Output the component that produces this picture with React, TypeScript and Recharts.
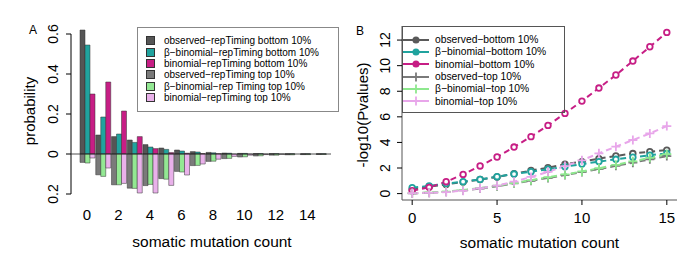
import {
  BarChart,
  Bar,
  LineChart,
  Line,
  XAxis,
  YAxis,
  Legend,
  ReferenceLine,
} from "recharts";

// ---- data ----
const mutationCounts = ["0", "1", "2", "3", "4", "5", "6", "7", "8", "9", "10", "11", "12", "13", "14", "15"];

// panel A: probability of each count (top 10% drawn downward)
const obsBottomProb = [0.62, 0.095, 0.087, 0.07, 0.047, 0.03, 0.02, 0.012, 0.008, 0.005, 0.003, 0.002, 0.0015, 0.001, 0.001, 0.001];
const bbBottomProb = [0.545, 0.185, 0.1, 0.058, 0.035, 0.023, 0.015, 0.01, 0.006, 0.004, 0.003, 0.002, 0.0015, 0.001, 0.001, 0.001];
const binBottomProb = [0.3, 0.36, 0.215, 0.087, 0.027, 0.007, 0.004, 0.002, 0.001, 0, 0, 0, 0, 0, 0, 0];
const obsTopProb = [-0.042, -0.104, -0.154, -0.171, -0.158, -0.123, -0.087, -0.058, -0.037, -0.023, -0.015, -0.01, -0.006, -0.004, -0.003, -0.002];
const bbTopProb = [-0.045, -0.112, -0.154, -0.172, -0.152, -0.126, -0.09, -0.057, -0.036, -0.022, -0.014, -0.009, -0.006, -0.004, -0.003, -0.002];
const binTopProb = [-0.02, -0.07, -0.147, -0.195, -0.195, -0.157, -0.105, -0.05, -0.026, -0.012, -0.006, -0.003, -0.001, 0, 0, 0];

const probTicks = [-0.2, 0, 0.2, 0.4, 0.6];

// panel B: -log10(p)
const obsBottomP = [0.33, 0.54, 0.72, 0.9, 1.1, 1.3, 1.55, 1.8, 2.03, 2.29, 2.5, 2.73, 2.95, 3.13, 3.28, 3.4];
const bbBottomP = [0.46, 0.6, 0.78, 0.93, 1.11, 1.32, 1.53, 1.71, 1.9, 2.1, 2.31, 2.5, 2.68, 2.84, 3.0, 3.14];
const binBottomP = [0.23, 0.49, 0.93, 1.5, 2.16, 2.86, 3.64, 4.45, 5.33, 6.27, 7.23, 8.25, 9.27, 10.36, 11.48, 12.6];
const obsTopP = [0.02, 0.06, 0.14, 0.25, 0.4, 0.58, 0.8, 1.0, 1.22, 1.45, 1.68, 1.92, 2.17, 2.42, 2.68, 2.93];
const bbTopP = [0.03, 0.08, 0.16, 0.28, 0.43, 0.62, 0.83, 1.05, 1.28, 1.5, 1.73, 1.98, 2.25, 2.52, 2.8, 3.08];
const binTopP = [0.03, 0.06, 0.12, 0.23, 0.42, 0.63, 0.93, 1.3, 1.7, 2.15, 2.6, 3.15, 3.67, 4.19, 4.7, 5.28];

const pTicksX = [0, 5, 10, 15];
const pTicksY = [0, 2, 4, 6, 8, 10, 12];

const barNames = [
  "observed\u2212repTiming bottom 10%",
  "\u03b2\u2212binomial\u2212repTiming bottom 10%",
  "binomial\u2212repTiming bottom 10%",
  "observed\u2212repTiming top 10%",
  "\u03b2\u2212binomial\u2212rep Timing top 10%",
  "binomial\u2212repTiming top 10%",
];
const lineNames = [
  "observed\u2212bottom 10%",
  "\u03b2\u2212binomial\u2212bottom 10%",
  "binomial\u2212bottom 10%",
  "observed\u2212top 10%",
  "\u03b2\u2212binomial\u2212top 10%",
  "binomial\u2212top 10%",
];

// ---- styles ----
const FONT = '"Liberation Sans", Arial, Helvetica, sans-serif';
const barKeys = ["obsB", "bbB", "binB", "obsT", "bbT", "binT"];
const barStacks = ["obs", "bb", "bin", "obs", "bb", "bin"];
const barColors = ["#555555", "#20a39e", "#c71e85", "#7a7a7a", "#93e893", "#e9b1ea"];
const lineKeys = ["obsB", "bbB", "binB", "obsT", "bbT", "binT"];
const lineColors = ["#5a5a5a", "#20a39e", "#c71e85", "#7a7a7a", "#8ee88e", "#e8a6ea"];
const BOX = "#555";

const barData = mutationCounts.map((c, i) => ({
  count: c,
  obsB: obsBottomProb[i],
  bbB: bbBottomProb[i],
  binB: binBottomProb[i],
  obsT: obsTopProb[i],
  bbT: bbTopProb[i],
  binT: binTopProb[i],
}));

const lineData = mutationCounts.map((c, i) => ({
  count: Number(c),
  obsB: obsBottomP[i],
  bbB: bbBottomP[i],
  binB: binBottomP[i],
  obsT: obsTopP[i],
  bbT: bbTopP[i],
  binT: binTopP[i],
}));

function RotatedTick(props: any) {
  const { x, y, payload, shift, fmt } = props;
  const cx = x + shift;
  return (
    <text
      x={cx}
      y={y}
      transform={`rotate(-90 ${cx} ${y})`}
      textAnchor="middle"
      dominantBaseline="central"
      fontSize={14}
      fill="#000"
    >
      {fmt(payload.value)}
    </text>
  );
}

const probFmt = (v: number) => (v === 0 ? "0" : Math.abs(v).toFixed(1));
const plainFmt = (v: number) => String(v);

function xTitle(text: string, dx: number, dy: number) {
  return (p: any) => {
    const vb = p.viewBox;
    return (
      <text x={vb.x + vb.width / 2 + dx} y={vb.y + dy} textAnchor="middle" fontSize={15.5} fill="#000">
        {text}
      </text>
    );
  };
}

function yTitle(text: string, cx: number, dy: number) {
  return (p: any) => {
    const vb = p.viewBox;
    const cy = vb.y + vb.height / 2 + dy;
    return (
      <text
        x={cx}
        y={cy}
        transform={`rotate(-90 ${cx} ${cy})`}
        textAnchor="middle"
        dominantBaseline="central"
        fontSize={15}
        fill="#000"
      >
        {text}
      </text>
    );
  };
}

function circleDot(color: string) {
  return (p: any) => (
    <circle key={`c${p.index}`} cx={p.cx} cy={p.cy} r={2.8} fill="#fff" stroke={color} strokeWidth={1.8} />
  );
}

function plusDot(color: string) {
  return (p: any) => (
    <path
      key={`p${p.index}`}
      d={`M${p.cx - 4.5},${p.cy}h9M${p.cx},${p.cy - 4.5}v9`}
      stroke={color}
      strokeWidth={1.8}
      fill="none"
    />
  );
}

function BarLegendBox() {
  return (
    <div
      style={{
        width: "100%",
        height: "100%",
        boxSizing: "border-box",
        border: "1px solid #888",
        paddingTop: 7,
        fontSize: 10,
        fontFamily: FONT,
        color: "#000",
      }}
    >
      {barNames.map((n, i) => (
        <div key={n} style={{ display: "flex", alignItems: "center", height: 11.4, whiteSpace: "nowrap" }}>
          <span
            style={{
              display: "inline-block",
              width: 7,
              height: 7,
              marginLeft: 8,
              marginRight: 9,
              background: barColors[i],
              border: "1px solid #333",
            }}
          />
          <span>{n}</span>
        </div>
      ))}
    </div>
  );
}

function LineLegendBox() {
  return (
    <div
      style={{
        width: "100%",
        height: "100%",
        boxSizing: "border-box",
        border: `1px solid ${BOX}`,
        paddingTop: 6.5,
        fontSize: 10.3,
        fontFamily: FONT,
        color: "#000",
      }}
    >
      {lineNames.map((n, i) => (
        <div key={n} style={{ display: "flex", alignItems: "center", height: 12.3, whiteSpace: "nowrap" }}>
          <svg width={27} height={12} style={{ marginRight: 5, flex: "none" }}>
            <line x1={0} y1={6} x2={26} y2={6} stroke={lineColors[i]} strokeWidth={2} />
            {i < 3 ? (
              <circle cx={13} cy={6} r={2.8} fill={lineColors[i]} stroke={lineColors[i]} strokeWidth={1.5} />
            ) : (
              <path d="M8.5,6h9M13,1.5v9" stroke={lineColors[i]} strokeWidth={1.8} />
            )}
          </svg>
          <span>{n}</span>
        </div>
      ))}
    </div>
  );
}

export default function App() {
  return (
    <div
      style={{
        position: "fixed",
        left: 0,
        top: 0,
        width: 700,
        height: 268,
        background: "#fff",
        overflow: "hidden",
        fontFamily: FONT,
      }}
    >
      <div style={{ position: "absolute", left: 0, top: 0 }}>
        <BarChart
          width={345}
          height={268}
          data={barData}
          stackOffset="sign"
          barCategoryGap={1}
          barGap={0}
          margin={{ top: 30, right: 14, bottom: 14, left: 0 }}
        >
          <XAxis
            dataKey="count"
            interval={1}
            tickLine={false}
            axisLine={false}
            padding={{ left: 8, right: 0 }}
            height={60}
            tickMargin={9}
            tick={{ fontSize: 15, fill: "#000" }}
            label={xTitle("somatic mutation count", 11, 53)}
          />
          <XAxis xAxisId="edge" type="number" domain={[0, 1]} allowDataOverflow hide />
          <YAxis
            domain={[-0.2, "dataMax"]}
            ticks={probTicks}
            width={71}
            axisLine={false}
            tickSize={5}
            tickLine={{ stroke: "#000" }}
            tick={(p: any) => <RotatedTick {...p} shift={-11.5} fmt={probFmt} />}
            label={yTitle("probability", 29, -1)}
          />
          <ReferenceLine xAxisId="edge" segment={[{ x: 0, y: -0.2 }, { x: 0, y: 0.6 }]} stroke="#000" />
          {barKeys.map((k, i) => (
            <Bar
              key={k}
              dataKey={k}
              stackId={barStacks[i]}
              fill={barColors[i]}
              stroke="#333"
              strokeWidth={0.5}
              isAnimationActive={false}
            />
          ))}
          <ReferenceLine y={0} stroke="#222" strokeWidth={0.8} />
          <Legend
            layout="horizontal"
            verticalAlign="middle"
            align="center"
            content={() => <BarLegendBox />}
            wrapperStyle={{ left: 137, top: 27, width: 202, height: 85 }}
          />
        </BarChart>
      </div>

      <div style={{ position: "absolute", left: 350, top: 0 }}>
        <LineChart
          width={350}
          height={268}
          data={lineData}
          margin={{ top: 26, right: 23, bottom: 8, left: 0 }}
        >
          <XAxis
            dataKey="count"
            type="number"
            domain={[-0.6, 15.6]}
            ticks={pTicksX}
            allowDataOverflow
            axisLine={{ stroke: BOX }}
            tickSize={5}
            tickMargin={7}
            height={60}
            tickLine={{ stroke: "#000" }}
            tick={{ fontSize: 15, fill: "#000" }}
            label={xTitle("somatic mutation count", 0, 48)}
          />
          <XAxis
            xAxisId="top"
            orientation="top"
            dataKey="count"
            type="number"
            domain={[-0.6, 15.6]}
            allowDataOverflow
            height={0}
            tick={false}
            tickLine={false}
            axisLine={{ stroke: BOX }}
          />
          <YAxis
            domain={[-0.5, 13.1]}
            ticks={pTicksY}
            allowDataOverflow
            width={52}
            axisLine={{ stroke: BOX }}
            tickSize={5}
            tickLine={{ stroke: "#000" }}
            tick={(p: any) => <RotatedTick {...p} shift={-10} fmt={plainFmt} />}
            label={yTitle("-log10(Pvalues)", 12, 2)}
          />
          <YAxis
            yAxisId="right"
            orientation="right"
            domain={[-0.5, 13.1]}
            allowDataOverflow
            width={0}
            tick={false}
            tickLine={false}
            axisLine={{ stroke: BOX }}
          />
          {lineKeys.map((k, i) => (
            <Line
              key={k}
              dataKey={k}
              stroke={lineColors[i]}
              strokeWidth={2}
              strokeDasharray="6 4"
              dot={i < 3 ? circleDot(lineColors[i]) : plusDot(lineColors[i])}
              activeDot={false}
              isAnimationActive={false}
            />
          ))}
          <Legend
            layout="horizontal"
            verticalAlign="middle"
            align="center"
            content={() => <LineLegendBox />}
            wrapperStyle={{ left: 52, top: 26, width: 163, height: 87 }}
          />
        </LineChart>
      </div>

      <div style={{ position: "absolute", left: 29, top: 24, fontSize: 12, lineHeight: "12px", color: "#000" }}>A</div>
      <div style={{ position: "absolute", left: 356, top: 25, fontSize: 12, lineHeight: "12px", color: "#000" }}>B</div>
    </div>
  );
}
